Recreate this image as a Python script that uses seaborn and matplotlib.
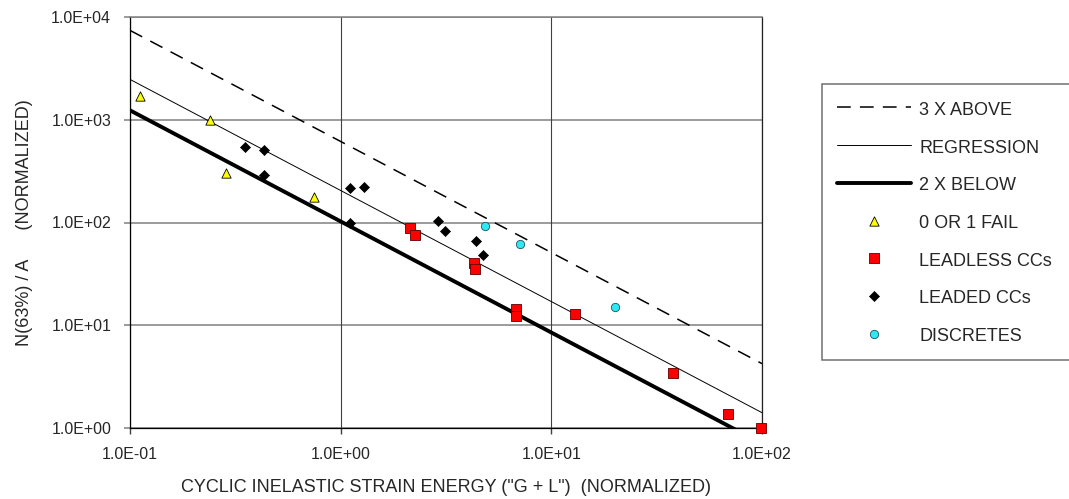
import matplotlib
matplotlib.use('Agg')
import matplotlib.pyplot as plt
import matplotlib.ticker as mticker
import seaborn as sns

# points
zero_one_x = [0.111, 0.240, 0.287, 0.745]
zero_one_y = [1700, 990, 300, 176]

leadless_x = [2.13, 2.26, 4.30, 4.34, 6.79, 6.79, 13.0, 37.8, 69.2, 99.0]
leadless_y = [88, 75, 40.6, 35.0, 14.3, 12.3, 12.9, 3.45, 1.36, 1.0]

leaded_x = [0.351, 0.434, 0.434, 1.107, 1.29, 1.11, 2.90, 3.13, 4.41, 4.72]
leaded_y = [540, 505, 292, 218, 223, 98, 104, 83, 66, 48]

discrete_x = [4.84, 7.10, 20.0]
discrete_y = [92.5, 61.8, 15.0]

# straight lines in log-log space, end points only
line_x = [0.1, 100]
regression_y = [2470, 1.41]
above_y = [7410, 4.23]
below_y = [1235, 0.705]

x_ticks = [0.1, 1, 10, 100]
y_ticks = [1, 10, 100, 1000, 10000]

sns.set_style('white')
plt.rcParams['font.family'] = ['Liberation Sans', 'DejaVu Sans']

fig, ax = plt.subplots(figsize=(10.69, 4.99), dpi=100)
fig.subplots_adjust(left=130/1069, right=762/1069, top=1-17/499, bottom=1-428/499)
ax.set(xscale='log', yscale='log')

sns.lineplot(x=line_x, y=above_y, ax=ax, color='black', lw=1.1,
             linestyle=(0, (9, 6)), label='3 X ABOVE', zorder=3)
sns.lineplot(x=line_x, y=regression_y, ax=ax, color='black', lw=0.7,
             label='REGRESSION', zorder=3)
sns.lineplot(x=line_x, y=below_y, ax=ax, color='black', lw=2.8,
             label='2 X BELOW', zorder=3)

sns.scatterplot(x=zero_one_x, y=zero_one_y, ax=ax, marker='^', s=45,
                color='#ffff00', edgecolor='black', linewidth=0.6,
                label='0 OR 1 FAIL', zorder=4, clip_on=False)
sns.scatterplot(x=leadless_x, y=leadless_y, ax=ax, marker='s', s=45,
                color='#ff0000', edgecolor='#600000', linewidth=0.6,
                label='LEADLESS CCs', zorder=4, clip_on=False)
sns.scatterplot(x=leaded_x, y=leaded_y, ax=ax, marker='D', s=26,
                color='black', edgecolor='black', linewidth=0.5,
                label='LEADED CCs', zorder=4, clip_on=False)
sns.scatterplot(x=discrete_x, y=discrete_y, ax=ax, marker='o', s=36,
                color='#2ee8f2', edgecolor='#205060', linewidth=0.6,
                label='DISCRETES', zorder=4, clip_on=False)

ax.set_xlim(0.1, 100)
ax.set_ylim(1, 10000)
ax.set_xticks(x_ticks)
ax.set_yticks(y_ticks)
ax.xaxis.set_minor_locator(mticker.NullLocator())
ax.yaxis.set_minor_locator(mticker.NullLocator())
fmt = mticker.FuncFormatter(lambda v, p: f'{v:.1E}')
ax.xaxis.set_major_formatter(fmt)
ax.yaxis.set_major_formatter(fmt)

ax.grid(False)
for y in y_ticks:
    ax.axhline(y, color='#808080', lw=1.1, zorder=1)
for x in x_ticks:
    ax.axvline(x, color='#404040', lw=0.8, zorder=1)

for side in ['left', 'bottom']:
    ax.spines[side].set_color('black')
    ax.spines[side].set_linewidth(0.9)
ax.spines['top'].set_color('#808080')
ax.spines['top'].set_linewidth(1.1)
ax.spines['right'].set_color('#202020')
ax.spines['right'].set_linewidth(0.9)

ax.tick_params(axis='y', which='major', direction='out', length=4.5, width=1.1,
               color='#808080', pad=9, labelsize=11.5, left=True)
ax.tick_params(axis='x', which='major', direction='out', length=4.5, width=1.0,
               color='#404040', pad=9.5, labelsize=11.5, bottom=True)

ax.set_xlabel('CYCLIC INELASTIC STRAIN ENERGY ("G + L")  (NORMALIZED)', fontsize=13)
ax.set_ylabel('N(63%) / A      (NORMALIZED)', fontsize=13)
ax.xaxis.set_label_coords(0.5, -0.123)
ax.yaxis.set_label_coords(-0.153, 0.5)

handles, labels = ax.get_legend_handles_labels()
order = ['3 X ABOVE', 'REGRESSION', '2 X BELOW', '0 OR 1 FAIL',
         'LEADLESS CCs', 'LEADED CCs', 'DISCRETES']
hmap = dict(zip(labels, handles))
leg = ax.legend([hmap[k] for k in order], order, loc='upper left',
                bbox_to_anchor=(821.7/1069, 0.1, 0.25, 1-84/499-0.1),
                bbox_transform=fig.transFigure, mode='expand', borderaxespad=0,
                fontsize=13, frameon=True, fancybox=False, framealpha=1,
                edgecolor='#707070', borderpad=0.85, labelspacing=1.0,
                handlelength=4.1, handleheight=1.25, handletextpad=0.45,
                scatterpoints=1)
leg.get_frame().set_linewidth(1.1)

fig.savefig('out.png', dpi=100, facecolor='white')
